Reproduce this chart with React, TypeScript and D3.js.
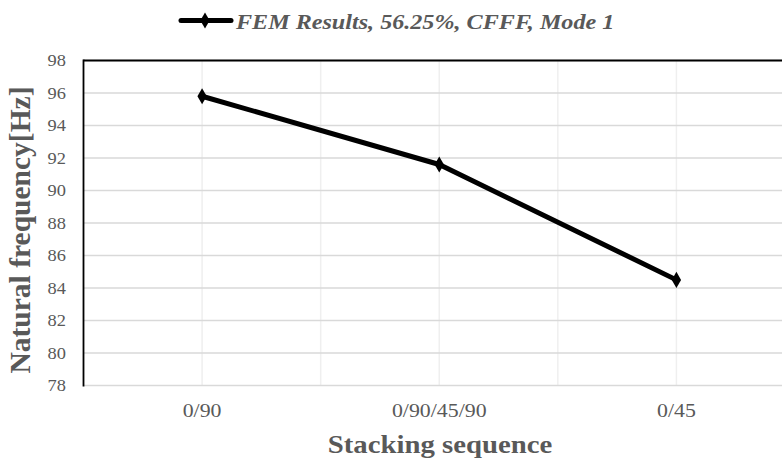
import React from "react";
import * as d3 from "d3";

const categories = ["0/90", "0/90/45/90", "0/45"];
const frequencies = [95.8, 91.6, 84.5];
const yTicks = [78, 80, 82, 84, 86, 88, 90, 92, 94, 96, 98];
const legendLabel = "FEM Results, 56.25%, CFFF, Mode 1";
const xTitle = "Stacking sequence";
const yTitle = "Natural frequency[Hz]";

const W = 782;
const H = 462;
const left = 83.5;
const right = 795;
const top = 60.5;
const bottom = 385.5;
const SX = 1.15;
const serif = "'Liberation Serif', 'Times New Roman', serif";

export default function App() {
  const x = d3.scaleBand<string>().domain(categories).range([left, right]);
  const y = d3.scaleLinear().domain([78, 98]).range([bottom, top]);
  const cx = (c: string) => (x(c) as number) + x.bandwidth() / 2;
  const line = d3
    .line<number>()
    .x((_, i) => cx(categories[i]))
    .y((d) => y(d));
  const diamond = d3.symbol().type(d3.symbolDiamond).size(75)() as string;
  const bounds = categories.map((c) => x(c) as number).slice(1);

  return (
    <svg
      width={W}
      height={H}
      style={{ position: "fixed", left: 0, top: 0, background: "#fff" }}
    >
      <rect x={0} y={0} width={W} height={H} fill="#fff" />
      {categories.map((c) => (
        <line key={"vc" + c} x1={cx(c)} x2={cx(c)} y1={top} y2={bottom} stroke="#efefef" strokeWidth={1.5} />
      ))}
      {bounds.map((b, i) => (
        <line key={"vb" + i} x1={b} x2={b} y1={top} y2={bottom} stroke="#efefef" strokeWidth={1.5} />
      ))}
      {yTicks.map((t) => (
        <line key={"h" + t} x1={left} x2={right} y1={y(t)} y2={y(t)} stroke="#d9d9d9" strokeWidth={1.5} />
      ))}
      <line x1={left} x2={right} y1={top} y2={top} stroke="#000" strokeWidth={1.8} />
      <line x1={left} x2={left} y1={top - 0.9} y2={bottom + 1} stroke="#000" strokeWidth={1.8} />
      {yTicks.map((t) => (
        <g key={"yt" + t} transform={`translate(66,${y(t)}) scale(${SX},1)`}>
          <text dy="0.35em" textAnchor="end" fontFamily={serif} fontSize={16} fill="#595959">
            {t}
          </text>
        </g>
      ))}
      {categories.map((c) => (
        <g key={"xt" + c} transform={`translate(${cx(c)},417) scale(${SX},1)`}>
          <text textAnchor="middle" fontFamily={serif} fontSize={19} fill="#595959">
            {c}
          </text>
        </g>
      ))}
      <path d={line(frequencies) as string} fill="none" stroke="#000" strokeWidth={5} strokeLinejoin="round" />
      {frequencies.map((f, i) => (
        <path key={"m" + i} d={diamond} transform={`translate(${cx(categories[i])},${y(f)})`} fill="#000" />
      ))}
      <g transform={`translate(440,453) scale(${SX},1)`}>
        <text textAnchor="middle" fontFamily={serif} fontWeight="bold" fontSize={25} fill="#595959">
          {xTitle}
        </text>
      </g>
      <text
        transform={`translate(30,230) rotate(-90)`}
        textAnchor="middle"
        fontFamily={serif}
        fontWeight="bold"
        fontSize={29.5}
        fill="#595959"
      >
        {yTitle}
      </text>
      <line x1={181} x2={231} y1={20.5} y2={20.5} stroke="#000" strokeWidth={5} strokeLinecap="round" />
      <path d={diamond} transform="translate(205,20.5)" fill="#000" />
      <g transform={`translate(236,29) scale(${SX},1)`}>
        <text fontFamily={serif} fontStyle="italic" fontWeight="bold" fontSize={21} fill="#595959">
          {legendLabel}
        </text>
      </g>
    </svg>
  );
}
